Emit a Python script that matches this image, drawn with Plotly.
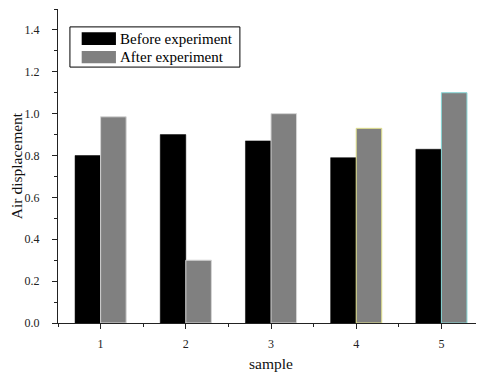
import plotly.graph_objects as go

samples = [1, 2, 3, 4, 5]
before = [0.80, 0.90, 0.87, 0.79, 0.83]
after = [0.985, 0.30, 1.00, 0.93, 1.10]
tick_labels = ["1", "2", "3", "4", "5"]
series_names = ["Before experiment", "After experiment"]
after_edges = ["#d4d4d4", "#d4d4d4", "#d4d4d4", "#e2e28c", "#86d6d6"]

FONT = "Liberation Serif"

fig = go.Figure()
fig.add_trace(go.Bar(x=samples, y=before, name=series_names[0],
                     marker=dict(color="#000000", line=dict(color="#000000", width=0.5)),
                     showlegend=False))
fig.add_trace(go.Bar(x=samples, y=after, name=series_names[1],
                     marker=dict(color="#808080", line=dict(color=after_edges, width=1)),
                     showlegend=False))

# custom legend (wide swatches like the original)
shapes = [
    dict(type="rect", xref="paper", yref="paper", x0=0.028, x1=0.427, y0=0.815, y1=0.943,
         line=dict(color="#000000", width=1), fillcolor="white", layer="above"),
    dict(type="rect", xref="paper", yref="paper", x0=0.0556, x1=0.136, y0=0.885, y1=0.926,
         line=dict(width=0), fillcolor="#000000", layer="above"),
    dict(type="rect", xref="paper", yref="paper", x0=0.0556, x1=0.136, y0=0.827, y1=0.866,
         line=dict(width=0), fillcolor="#808080", layer="above"),
]
annotations = [
    dict(xref="paper", yref="paper", x=0.140, y=0.906, text=series_names[0], showarrow=False,
         xanchor="left", yanchor="middle", font=dict(family=FONT, size=15, color="#000000")),
    dict(xref="paper", yref="paper", x=0.140, y=0.847, text=series_names[1], showarrow=False,
         xanchor="left", yanchor="middle", font=dict(family=FONT, size=15, color="#000000")),
]

# the page body adds an 8px offset, so the figure is sized to fit the 484x372 window
fig.update_layout(
    width=476, height=364,
    margin=dict(l=50, r=0, t=1, b=49, autoexpand=False),
    paper_bgcolor="white", plot_bgcolor="white",
    font=dict(family=FONT, size=12, color="#222222"),
    barmode="group", bargap=0.4, bargroupgap=0,
    shapes=shapes, annotations=annotations,
    showlegend=False,
)
fig.update_xaxes(
    automargin=False,
    range=[0.5, 5.5], tickmode="array", tickvals=samples, ticktext=tick_labels,
    showline=True, linecolor="#222222", linewidth=1.3, showgrid=False, zeroline=False,
    ticks="outside", ticklen=5, tickwidth=1, tickcolor="#222222",
    minor=dict(ticks="outside", ticklen=3, dtick=0.5, tick0=0.5, tickcolor="#222222", showgrid=False),
    title=dict(text="sample", font=dict(family=FONT, size=15.5, color="#111111")),
    tickfont=dict(family=FONT, size=12, color="#222222"),
    ticklabelstandoff=4,
)
fig.update_yaxes(
    automargin=False,
    range=[0, 1.5], tickmode="array", tickvals=[0, 0.2, 0.4, 0.6, 0.8, 1.0, 1.2, 1.4],
    ticktext=["0.0", "0.2", "0.4", "0.6", "0.8", "1.0", "1.2", "1.4"],
    showline=True, linecolor="#222222", linewidth=1.3, showgrid=False, zeroline=False,
    ticks="outside", ticklen=5, tickwidth=1, tickcolor="#222222",
    minor=dict(ticks="outside", ticklen=3, dtick=0.1, tickcolor="#222222", showgrid=False),
    title=dict(text="Air displacement", font=dict(family=FONT, size=15.5, color="#111111")),
    tickfont=dict(family=FONT, size=12, color="#222222"),
    ticklabelstandoff=10,
)

fig.write_html("out.html")
